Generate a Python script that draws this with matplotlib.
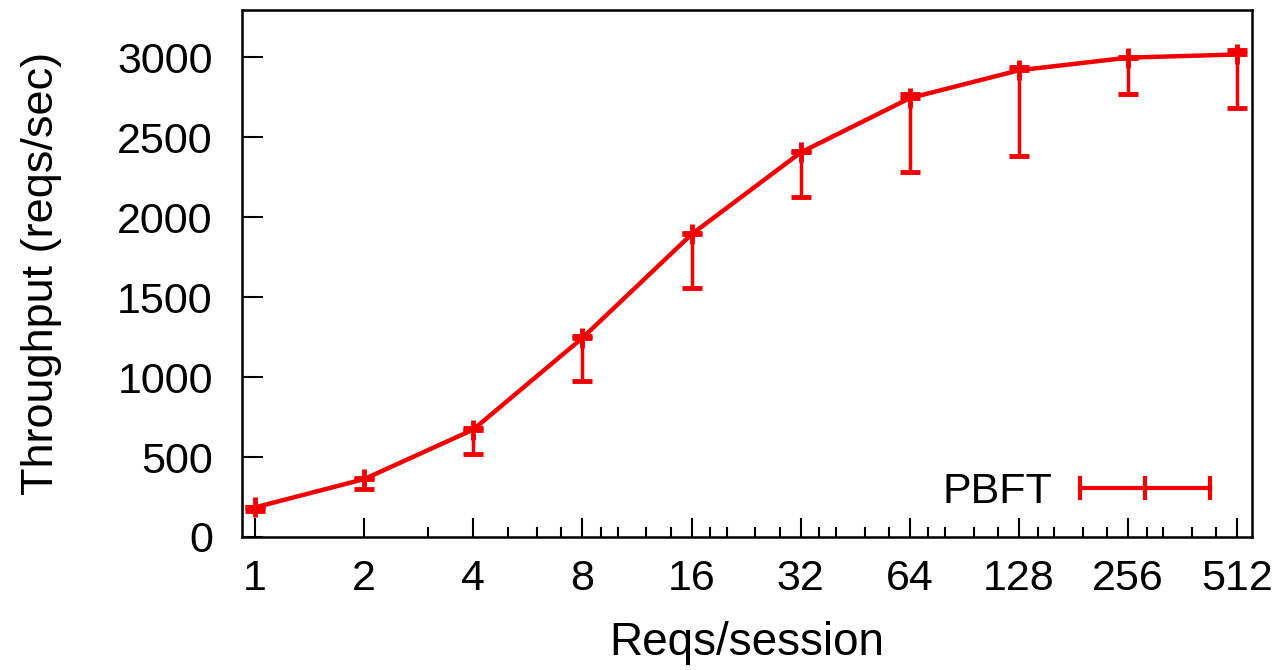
import numpy as np
import matplotlib
matplotlib.use('Agg')
import matplotlib.pyplot as plt
from matplotlib.lines import Line2D
from matplotlib.ticker import FixedLocator, NullFormatter

plt.rcParams['font.family'] = ['Liberation Sans', 'DejaVu Sans']

# data
REQS = [1, 2, 4, 8, 16, 32, 64, 128, 256, 512]
THROUGHPUT = [185, 362, 672, 1245, 1893, 2405, 2745, 2919, 2998, 3018]
ERR_LOW = [165, 300, 520, 975, 1560, 2125, 2282, 2385, 2772, 2686]
ERR_HIGH = [190, 370, 680, 1255, 1900, 2415, 2768, 2940, 3002, 3045]

X_TICKS = [1, 2, 4, 8, 16, 32, 64, 128, 256, 512]
X_MINOR = [3, 5, 6, 7, 9, 10, 12, 14, 18, 20, 24, 28, 36, 40, 48, 56,
           72, 80, 96, 112, 144, 160, 192, 224, 288, 320, 384, 448]
Y_TICKS = [0, 500, 1000, 1500, 2000, 2500, 3000]

RED = '#f00000'
FS = 31

fig = plt.figure(figsize=(12.85, 6.7), dpi=100)
ax = fig.add_axes([242/1285, 1 - 537/670, 1010/1285, 527/670])

y = np.array(THROUGHPUT)
yerr = [y - np.array(ERR_LOW), np.array(ERR_HIGH) - y]
ax.errorbar(REQS, y, yerr=yerr, color=RED, lw=3.2, marker='+', ms=15, mew=3.5,
            elinewidth=2.5, capsize=7, capthick=3)

ax.set_xscale('log', base=2)
ax.set_xlim(0.921, 562)
ax.set_ylim(0, 3296)
ax.xaxis.set_major_locator(FixedLocator(X_TICKS))
ax.set_xticklabels([str(v) for v in X_TICKS])
ax.xaxis.set_minor_locator(FixedLocator(X_MINOR))
ax.xaxis.set_minor_formatter(NullFormatter())
ax.set_yticks(Y_TICKS)

ax.tick_params(axis='both', which='major', direction='in', labelsize=FS,
               width=1.5, color='black')
ax.tick_params(axis='x', which='major', length=14, pad=16, top=False)
ax.tick_params(axis='x', which='minor', direction='in', length=7, width=1.5,
               top=False)
ax.tick_params(axis='y', which='major', length=15, pad=21, right=False)
for s in ax.spines.values():
    s.set_linewidth(1.8)

ax.set_xlabel('Reqs/session', fontsize=33, labelpad=16)
ax.set_ylabel('Throughput (reqs/sec)', fontsize=32.5, labelpad=40)

handle = Line2D([], [], color=RED, lw=3, marker='|', ms=17, mew=3)
ax.legend(handles=[handle], labels=['PBFT'], numpoints=3, markerfirst=False,
          loc='center right', bbox_to_anchor=(0.971, 0.085), frameon=False,
          fontsize=FS, borderpad=0, borderaxespad=0, handlelength=3.62,
          handletextpad=0.33)

fig.savefig('out.png', dpi=100)
